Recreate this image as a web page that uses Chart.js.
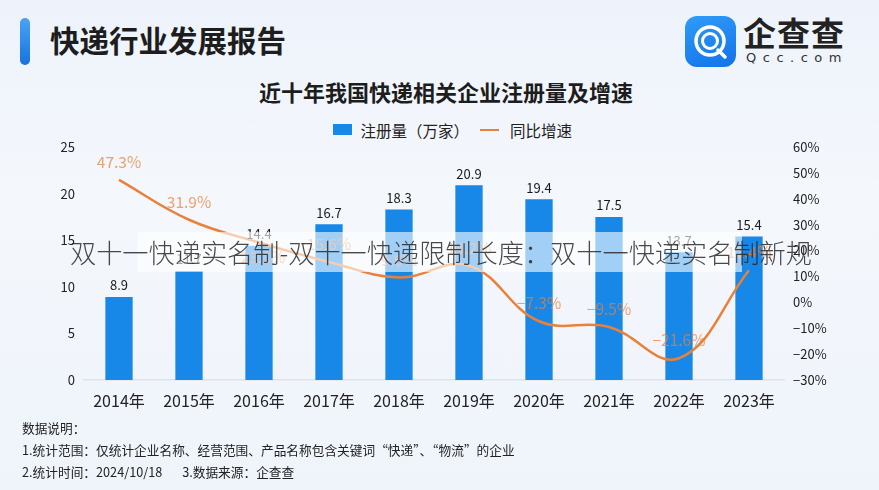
<!DOCTYPE html>
<html>
<head>
<meta charset="utf-8">
<script src="https://cdn.jsdelivr.net/npm/chart.js@4.4.1/dist/chart.umd.min.js"></script>
<style>
  html, body { margin: 0; padding: 0; }
  body {
    width: 879px; height: 490px; position: relative; overflow: hidden;
    font-family: "Noto Sans CJK SC", "Noto Sans", sans-serif;
    background: linear-gradient(180deg, #eef3fb 0%, #f4f7fc 40%, #eff4fb 100%);
  }
  .bar { position: absolute; left: 20px; top: 18px; width: 10px; height: 47px; border-radius: 5px;
    background: linear-gradient(180deg, #4aa3f5, #1673e0); }
  .head { position: absolute; left: 50px; top: 19px; font-size: 29.5px; font-weight: bold; color: #1d1d1d; line-height: 40px; }
  .logo { position: absolute; left: 685px; top: 16px; width: 51px; height: 51px; border-radius: 12px;
    background: linear-gradient(160deg, #2f9cf8, #1371ea); }
  .brand { position: absolute; left: 743px; top: 12px; font-size: 33px; font-weight: bold; color: #222; line-height: 40px; letter-spacing: 1px; }
  .brand2 { position: absolute; left: 746px; top: 50px; font-size: 13px; color: #333; letter-spacing: 6.5px; line-height: 16px; font-family: "DejaVu Sans", sans-serif; }
  .title { position: absolute; left: 0; width: 892px; top: 76px; text-align: center; font-size: 22px; font-weight: bold; color: #1d1d1d; line-height: 30px; }
  .legend { position: absolute; top: 116px; left: 333px; font-size: 15.5px; color: #222; line-height: 22px; white-space: nowrap; }
  .legend span { display: inline-block; vertical-align: middle; }
  #wrap { position: absolute; left: 0; top: 130px; width: 879px; height: 300px; }
  .note { position: absolute; left: 22px; font-size: 12.7px; color: #222; line-height: 18px; white-space: nowrap; }
  .band { position: absolute; left: 137px; top: 232px; width: 605px; height: 40px; background: rgba(255,255,255,0.6); }
  .wm { position: absolute; left: 70px; top: 233px; font-size: 26.2px; color: rgba(40,40,40,0.85); line-height: 38px; white-space: nowrap; font-weight: 300; }
</style>
</head>
<body>
<div class="bar"></div>
<div class="head">快递行业发展报告</div>
<div class="logo">
  <svg width="51" height="51" viewBox="0 0 51 51">
    <circle cx="25" cy="25" r="14" fill="none" stroke="#fff" stroke-width="3.5"/>
    <circle cx="25" cy="25" r="7.5" fill="none" stroke="#fff" stroke-width="3"/>
    <line x1="33" y1="34" x2="40" y2="41" stroke="#fff" stroke-width="3.5" stroke-linecap="round"/>
  </svg>
</div>
<div class="brand">企查查</div>
<div class="brand2">Qcc.com</div>
<div class="title">近十年我国快递相关企业注册量及增速</div>
<div class="legend">
  <span style="width:19px;height:11px;background:#1787e8;"></span>
  <span style="margin-left:5px;">注册量（万家）</span>
  <span style="width:19px;height:2.5px;background:#e8823a;margin-left:8px;"></span>
  <span style="margin-left:7px;">同比增速</span>
</div>
<div id="wrap"><canvas id="chart" width="879" height="300"></canvas></div>
<div class="note" style="top:419px;">数据说明：</div>
<div class="note" style="top:441px;">1.统计范围：仅统计企业名称、经营范围、产品名称包含关键词“快递”、“物流”的企业</div>
<div class="note" style="top:463px;">2.统计时间：2024/10/18&nbsp;&nbsp;&nbsp;&nbsp;&nbsp;&nbsp;&nbsp;3.数据来源：企查查</div>
<div class="band"></div>
<div class="wm">双十一快递实名制-双十一快递限制长度：双十一快递实名制新规</div>

<script>
// Data
const years = ["2014年", "2015年", "2016年", "2017年", "2018年", "2019年", "2020年", "2021年", "2022年", "2023年"];
const registrations = [8.9, 11.7, 14.4, 16.7, 18.3, 20.9, 19.4, 17.5, 13.7, 15.4];
const growth = [47.3, 31.9, 23.1, 15.6, 9.6, 14.2, -7.3, -9.5, -21.6, 12.4];
const leftTicks = [0, 5, 10, 15, 20, 25];
const rightTicks = [-30, -20, -10, 0, 10, 20, 30, 40, 50, 60];
// which side of the line each growth label sits on
const growthLabelSide = ["up", "up", "down", "up", "up", "up", "up", "up", "up", "up"];

const FONT = '"Noto Sans CJK SC", "Noto Sans", sans-serif';

function fmtPct(v) {
  return (v < 0 ? "−" + Math.abs(v) : v) + "%";
}

// Draw value labels for bars and the line
const valueLabels = {
  id: "valueLabels",
  afterDatasetsDraw(chart) {
    const ctx = chart.ctx;
    ctx.save();
    ctx.textAlign = "center";
    ctx.textBaseline = "bottom";
    const barMeta = chart.getDatasetMeta(0);
    ctx.font = "13px " + FONT;
    ctx.fillStyle = "#1a1a1a";
    barMeta.data.forEach((el, i) => {
      ctx.fillText(registrations[i], el.x, el.y - 5);
    });
    const lineMeta = chart.getDatasetMeta(1);
    ctx.font = "15.5px " + FONT;
    ctx.fillStyle = "rgba(236,128,58,0.72)";
    lineMeta.data.forEach((el, i) => {
      if (growthLabelSide[i] === "down") {
        ctx.textBaseline = "top";
        ctx.fillText(fmtPct(growth[i]), el.x + 4, el.y + 7);
      } else {
        ctx.textBaseline = "bottom";
        ctx.fillText(fmtPct(growth[i]), el.x, el.y - 10);
      }
    });
    ctx.restore();
  }
};

new Chart(document.getElementById("chart"), {
  type: "bar",
  data: {
    labels: years,
    datasets: [
      {
        label: "注册量（万家）",
        data: registrations,
        backgroundColor: "#1787e8",
        barPercentage: 0.78,
        categoryPercentage: 0.5,
        yAxisID: "y",
        order: 2
      },
      {
        type: "line",
        label: "同比增速",
        data: growth,
        borderColor: "#e8823a",
        borderWidth: 2.5,
        tension: 0.4,
        pointRadius: 0,
        fill: false,
        yAxisID: "y1",
        order: 1
      }
    ]
  },
  plugins: [valueLabels],
  options: {
    responsive: false,
    animation: false,
    layout: { padding: { top: 17, left: 0, right: 0, bottom: 0 } },
    plugins: {
      legend: { display: false },
      tooltip: { enabled: false }
    },
    scales: {
      x: {
        grid: { display: false, drawTicks: false },
        border: { display: true, color: "#dde2ea", width: 1.5 },
        ticks: { color: "#222", font: { size: 16, family: FONT }, padding: 11 },
        afterFit(s) { s.height = 50; }
      },
      y: {
        position: "left",
        min: 0, max: 25,
        afterBuildTicks(s) { s.ticks = leftTicks.map(v => ({ value: v })); },
        grid: { display: false, drawTicks: false },
        border: { display: false },
        ticks: { color: "#222", font: { size: 13, family: FONT }, padding: 9 },
        afterFit(s) { s.width = 84; }
      },
      y1: {
        position: "right",
        min: -30, max: 60,
        afterBuildTicks(s) { s.ticks = rightTicks.map(v => ({ value: v })); },
        grid: { display: false, drawTicks: false },
        border: { display: false },
        ticks: {
          color: "#222", font: { size: 13, family: FONT }, padding: 9,
          callback: v => fmtPct(v)
        },
        afterFit(s) { s.width = 95; }
      }
    }
  }
});
</script>
</body>
</html>
